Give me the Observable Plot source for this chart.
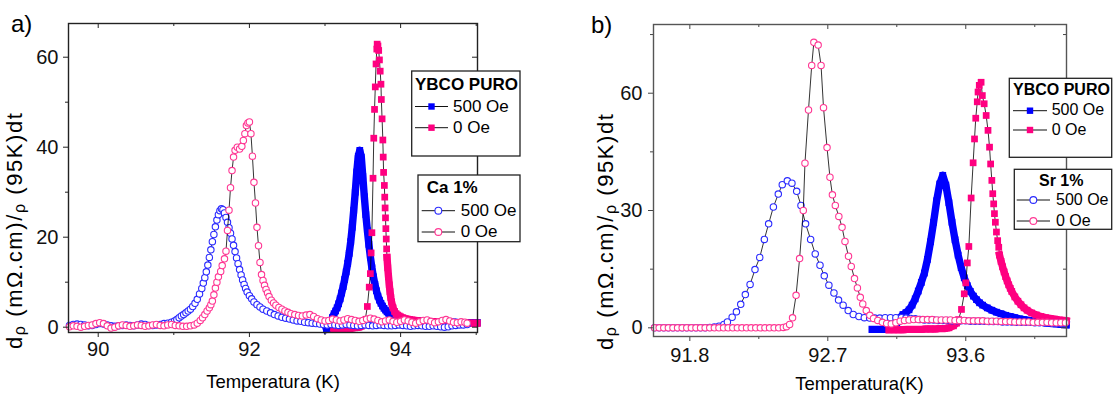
<!DOCTYPE html>
<html><head><meta charset="utf-8">
<script src="https://cdn.jsdelivr.net/npm/d3@7"></script>
<script src="https://cdn.jsdelivr.net/npm/@observablehq/plot@0.6"></script>
<style>
body{margin:0;background:#fff;}
#wrap{position:relative;width:1117px;height:396px;overflow:hidden;background:#fff;font-family:"Liberation Sans",Arial,sans-serif;}
.pl{position:absolute;top:0;}
#ov{position:absolute;left:0;top:0;pointer-events:none;}
</style></head>
<body>
<div id="wrap">
  <div id="pa" class="pl" style="left:0px"></div>
  <div id="pb" class="pl" style="left:558px"></div>
  <svg id="ov" width="1117" height="396"></svg>
</div>
<script>
// ---------- Panel a data (T in K, dρ/ρdt) ----------
const aYbco500 = [[93.02,-0.5],[93.04,-0.4],[93.06,0.0],[93.08,1.0],[93.10,2.2],[93.12,3.0],[93.14,3.6],[93.16,4.3],[93.18,5.2],[93.20,6.3],[93.22,7.6],[93.24,9.0],[93.26,10.6],[93.28,12.3],[93.30,14.2],[93.32,16.4],[93.34,19.0],[93.36,22.2],[93.38,26.0],[93.40,30.0],[93.42,34.5],[93.44,38.0],[93.46,39.3],[93.48,37.8],[93.50,33.5],[93.52,29.0],[93.54,25.0],[93.56,21.5],[93.58,18.4],[93.60,15.6],[93.62,13.2],[93.64,11.2],[93.66,9.5],[93.68,8.1],[93.70,6.9],[93.72,6.0],[93.74,5.3],[93.76,4.7],[93.78,4.2],[93.80,3.8],[93.82,3.4],[93.84,3.1],[93.86,2.8],[93.88,2.6],[93.90,2.4],[93.92,2.2],[93.94,2.1],[93.96,2.0],[93.98,1.9],[94.00,1.8],[94.03,1.7],[94.06,1.6],[94.09,1.6],[94.12,1.5],[94.15,1.5],[94.18,1.4],[94.21,1.4],[94.24,1.4],[94.27,1.3],[94.30,1.3],[94.33,1.3],[94.36,1.3],[94.39,1.2],[94.42,1.2],[94.45,1.2],[94.48,1.2],[94.51,1.2],[94.54,1.1],[94.57,1.1],[94.60,1.1],[94.63,1.1],[94.66,1.1],[94.69,1.1],[94.72,1.1],[94.75,1.0],[94.78,1.0],[94.81,1.0],[94.84,1.0],[94.87,1.0],[94.90,1.0],[94.93,1.0],[94.96,1.0],[94.99,1.0],[95.01,1.0]];
const aYbco0Base = [[93.12,-0.3],[93.15,-0.4],[93.18,-0.4],[93.21,-0.3],[93.24,-0.3],[93.27,-0.2],[93.30,-0.2],[93.33,-0.3],[93.36,-0.2],[93.39,-0.1],[93.42,-0.1],[93.45,0.0],[93.48,0.2],[93.51,0.6],[93.53,1.5]];
const aYbco0Peak = [[93.56,4.6],[93.585,8.9],[93.60,11.9],[93.61,16.5],[93.62,21.0],[93.635,33.1],[93.645,42.0],[93.655,48.4],[93.665,53.4],[93.675,58.5],[93.685,61.8],[93.69,62.9],[93.70,62.5],[93.71,61.5],[93.72,59.4],[93.73,56.9],[93.74,54.0],[93.745,50.6],[93.755,46.3],[93.765,41.6],[93.77,37.8],[93.775,34.4],[93.785,31.5],[93.79,28.9],[93.795,26.5],[93.80,24.3],[93.805,21.9],[93.81,19.6],[93.815,17.4]];
const aYbco0Tail = [[93.82,15.5],[93.83,13.2],[93.84,11.2],[93.85,9.4],[93.86,7.9],[93.87,6.6],[93.88,5.6],[93.90,4.3],[93.92,3.5],[93.94,3.0],[93.96,2.7],[93.98,2.5],[94.00,2.3],[94.03,2.1],[94.06,1.9],[94.09,1.8],[94.12,1.7],[94.15,1.6],[94.20,1.5],[94.25,1.4],[94.30,1.3],[94.35,1.3],[94.40,1.2],[94.45,1.2],[94.50,1.1],[94.55,1.1],[94.60,1.0],[94.65,1.0],[94.70,1.0],[94.75,0.9],[94.80,0.9],[94.85,0.9],[94.90,0.9],[94.95,0.9],[95.01,0.9]];
const aCa500 = [[89.62,0.4],[89.67,0.6],[89.72,0.7],[89.77,0.6],[89.82,0.5],[89.87,0.3],[89.92,0.4],[89.97,0.6],[90.02,0.8],[90.07,0.7],[90.12,0.5],[90.17,0.3],[90.22,0.2],[90.27,0.3],[90.32,0.4],[90.37,0.5],[90.42,0.4],[90.47,0.3],[90.52,0.5],[90.57,0.7],[90.62,0.6],[90.67,0.4],[90.72,0.4],[90.77,0.5],[90.82,0.6],[90.87,0.8],[90.92,0.9],[90.97,1.1],[91.01,1.4],[91.04,1.7],[91.07,2.1],[91.10,2.5],[91.13,2.8],[91.16,3.2],[91.19,3.6],[91.22,4.0],[91.25,4.6],[91.28,5.3],[91.31,6.2],[91.34,7.4],[91.37,8.6],[91.39,9.8],[91.41,11.0],[91.43,12.3],[91.45,13.8],[91.47,15.5],[91.49,17.2],[91.51,19.0],[91.53,20.6],[91.55,22.3],[91.57,23.8],[91.59,25.0],[91.61,25.9],[91.63,26.3],[91.65,26.1],[91.67,25.4],[91.69,24.4],[91.71,23.3],[91.73,22.1],[91.75,20.9],[91.77,19.6],[91.79,18.2],[91.81,16.8],[91.83,15.4],[91.85,14.1],[91.87,12.8],[91.89,11.6],[91.91,10.5],[91.93,9.5],[91.95,8.6],[91.97,7.8],[92.00,7.0],[92.03,6.3],[92.06,5.6],[92.10,5.0],[92.14,4.5],[92.18,4.0],[92.23,3.6],[92.28,3.2],[92.33,2.8],[92.38,2.5],[92.43,2.2],[92.48,2.0],[92.53,1.8],[92.58,1.6],[92.63,1.4],[92.68,1.3],[92.73,1.1],[92.78,1.0],[92.83,0.9],[92.88,0.8],[92.93,0.7],[92.98,0.6],[93.03,0.5],[93.08,0.6],[93.13,0.5],[93.18,0.4],[93.23,0.5],[93.28,0.6],[93.33,0.5],[93.38,0.4],[93.43,0.3],[93.48,0.4],[93.53,0.5],[93.58,0.4],[93.63,0.3],[93.68,0.4],[93.73,0.5],[93.78,0.4],[93.83,0.3],[93.88,0.3],[93.93,0.4],[93.98,0.5],[94.03,0.4],[94.08,0.3],[94.13,0.2],[94.18,0.3],[94.23,0.4],[94.28,0.3],[94.33,0.2],[94.38,0.2],[94.43,0.3],[94.48,0.2],[94.53,0.1],[94.58,0.0],[94.63,0.1],[94.68,0.3],[94.73,0.4],[94.78,0.5],[94.83,0.5],[94.88,0.6]];
const aCa0 = [[89.62,0.1],[89.67,0.3],[89.72,0.2],[89.77,0.0],[89.82,0.2],[89.87,0.4],[89.92,0.5],[89.97,0.8],[90.02,1.0],[90.07,0.8],[90.12,0.3],[90.17,-0.2],[90.22,0.0],[90.27,0.3],[90.32,0.5],[90.37,0.4],[90.42,0.2],[90.47,0.3],[90.52,0.5],[90.57,0.4],[90.62,0.2],[90.67,0.3],[90.72,0.5],[90.77,0.6],[90.82,0.4],[90.87,0.3],[90.92,0.5],[90.97,0.6],[91.02,0.4],[91.07,0.3],[91.12,0.2],[91.17,0.2],[91.22,0.3],[91.27,0.5],[91.31,0.9],[91.35,1.5],[91.38,2.1],[91.41,2.8],[91.44,3.6],[91.47,4.3],[91.49,5.0],[91.51,5.8],[91.53,7.2],[91.55,8.7],[91.57,10.0],[91.59,11.2],[91.62,12.4],[91.64,13.7],[91.67,15.2],[91.69,16.9],[91.71,21.5],[91.73,26.0],[91.75,31.0],[91.77,34.8],[91.79,37.8],[91.81,39.3],[91.84,40.0],[91.87,39.6],[91.90,40.2],[91.92,41.5],[91.94,43.0],[91.96,44.8],[91.98,45.4],[92.00,45.6],[92.02,43.0],[92.04,38.0],[92.06,32.2],[92.08,27.6],[92.10,22.2],[92.12,18.1],[92.14,14.4],[92.16,11.7],[92.18,10.4],[92.20,9.3],[92.22,8.4],[92.24,7.6],[92.26,6.8],[92.29,6.0],[92.32,5.4],[92.35,4.9],[92.39,4.4],[92.43,4.0],[92.47,3.6],[92.51,3.3],[92.55,3.0],[92.60,2.8],[92.65,2.6],[92.70,2.5],[92.75,2.7],[92.80,2.8],[92.85,2.4],[92.90,1.9],[92.95,1.6],[93.00,1.4],[93.05,1.5],[93.10,1.8],[93.15,1.6],[93.20,1.4],[93.25,1.6],[93.30,1.9],[93.35,1.7],[93.40,1.5],[93.45,1.3],[93.50,1.5],[93.55,1.8],[93.60,2.0],[93.65,1.8],[93.70,1.5],[93.75,1.2],[93.80,1.4],[93.85,1.6],[93.90,1.3],[93.95,1.1],[94.00,1.3],[94.05,1.6],[94.10,1.4],[94.15,1.1],[94.20,0.9],[94.25,1.2],[94.30,1.5],[94.35,1.6],[94.40,1.3],[94.45,1.0],[94.50,1.2],[94.55,1.5],[94.60,1.7],[94.65,1.4],[94.70,1.1],[94.75,1.0],[94.80,1.2],[94.85,1.1],[94.88,0.9]];

// ---------- Panel b data ----------
const bYbco500 = [[92.99,-0.4],[93.02,-0.4],[93.05,-0.4],[93.08,-0.4],[93.11,-0.3],[93.13,0.3],[93.15,1.2],[93.17,2.5],[93.19,3.4],[93.21,3.9],[93.23,4.6],[93.25,5.8],[93.27,7.4],[93.29,9.4],[93.31,11.6],[93.33,14.0],[93.35,17.5],[93.37,22.0],[93.39,27.0],[93.41,32.5],[93.43,36.8],[93.45,39.0],[93.47,36.5],[93.49,32.0],[93.51,27.0],[93.53,22.5],[93.55,18.6],[93.57,15.4],[93.59,12.8],[93.61,10.8],[93.63,9.3],[93.65,8.1],[93.67,7.2],[93.69,6.4],[93.71,5.8],[93.74,5.1],[93.77,4.5],[93.80,4.0],[93.83,3.6],[93.86,3.2],[93.89,2.9],[93.92,2.6],[93.95,2.3],[93.98,2.1],[94.01,1.9],[94.04,1.7],[94.07,1.5],[94.10,1.4],[94.13,1.2],[94.16,1.1],[94.19,1.0],[94.22,0.9],[94.255,0.8]];
const bYbco0Base = [[93.10,-0.5],[93.13,-0.5],[93.16,-0.5],[93.19,-0.5],[93.22,-0.4],[93.25,-0.4],[93.28,-0.4],[93.31,-0.4],[93.34,-0.3],[93.37,-0.3],[93.40,-0.3],[93.43,-0.2],[93.46,-0.2],[93.49,0.0],[93.52,0.5],[93.54,1.2]];
const bYbco0Peak = [[93.553,2.1],[93.572,4.7],[93.59,8.7],[93.60,11.5],[93.61,16.6],[93.62,20.8],[93.635,33.2],[93.648,42.2],[93.657,48.3],[93.665,53.6],[93.675,57.8],[93.68,60.3],[93.688,62.0],[93.70,62.8],[93.708,59.4],[93.72,57.3],[93.733,54.3],[93.745,50.5],[93.755,46.2],[93.762,41.9],[93.77,37.7],[93.776,34.3],[93.782,31.7],[93.787,29.2],[93.793,27.0],[93.80,24.5],[93.808,22.3],[93.815,20.6]];
const bYbco0Tail = [[93.82,18.6],[93.83,17.0],[93.84,15.6],[93.85,14.3],[93.86,13.1],[93.87,12.0],[93.88,11.0],[93.89,10.1],[93.90,9.3],[93.92,7.9],[93.94,6.8],[93.96,5.9],[93.98,5.1],[94.00,4.5],[94.03,3.8],[94.06,3.3],[94.09,2.9],[94.12,2.6],[94.15,2.4],[94.18,2.2],[94.21,2.0],[94.24,1.9],[94.255,1.8]];
const bSr500 = [[91.57,0],[91.60,0],[91.63,0],[91.66,0],[91.69,0],[91.72,0],[91.75,0],[91.78,0],[91.81,0],[91.84,0],[91.87,0],[91.90,0],[91.93,0.1],[91.96,0.2],[91.99,0.4],[92.022,0.85],[92.045,1.5],[92.076,2.7],[92.104,4.1],[92.132,6.0],[92.162,8.5],[92.193,11.1],[92.225,14.9],[92.256,18.0],[92.286,22.6],[92.314,26.6],[92.345,30.9],[92.377,34.2],[92.403,36.6],[92.436,37.6],[92.466,37.0],[92.497,34.9],[92.525,31.3],[92.555,26.6],[92.588,22.6],[92.618,18.9],[92.649,16.0],[92.677,13.3],[92.707,10.9],[92.74,8.9],[92.77,7.1],[92.80,5.8],[92.833,4.4],[92.866,3.4],[92.903,2.9],[92.938,2.6],[92.973,2.5],[93.006,2.5],[93.039,2.5],[93.074,2.6],[93.109,2.6],[93.144,2.6],[93.18,2.6],[93.21,2.5],[93.24,2.4],[93.27,2.3],[93.30,2.1],[93.33,2.0],[93.36,2.0],[93.39,2.0],[93.42,1.9],[93.45,1.9],[93.48,1.9],[93.51,1.8],[93.54,1.8],[93.57,1.8],[93.60,1.8],[93.63,1.7],[93.66,1.7],[93.69,1.7],[93.72,1.7],[93.75,1.6],[93.78,1.6],[93.81,1.6],[93.84,1.5],[93.87,1.5],[93.90,1.5],[93.93,1.4],[93.96,1.4],[93.99,1.4],[94.02,1.4],[94.05,1.3],[94.08,1.3],[94.11,1.3],[94.14,1.3],[94.17,1.2],[94.20,1.2],[94.23,1.2]];
const bSr0 = [[91.57,0],[91.60,0],[91.63,0],[91.66,0],[91.69,0],[91.72,0],[91.75,0],[91.78,0],[91.81,0],[91.84,0],[91.87,0],[91.90,0],[91.93,0],[91.96,0],[91.99,0],[92.02,0],[92.05,0],[92.08,0],[92.11,0],[92.14,0],[92.17,0],[92.20,0],[92.23,0],[92.26,0],[92.29,0],[92.32,0],[92.35,0],[92.38,0],[92.41,0.1],[92.43,0.3],[92.451,0.85],[92.47,2.55],[92.493,8.3],[92.516,17.7],[92.54,30.0],[92.551,42.1],[92.574,55.7],[92.595,67.1],[92.609,73.0],[92.637,72.3],[92.656,67.1],[92.672,56.3],[92.695,46.1],[92.714,38.5],[92.73,34.0],[92.749,31.3],[92.772,28.5],[92.793,25.7],[92.812,22.1],[92.835,18.3],[92.853,15.7],[92.874,12.6],[92.893,10.2],[92.912,7.8],[92.928,6.1],[92.951,4.4],[92.974,3.2],[92.998,2.4],[93.026,1.9],[93.056,1.4],[93.084,1.1],[93.114,1.0],[93.144,1.3],[93.172,1.7],[93.20,1.9],[93.23,2.0],[93.26,2.1],[93.29,2.1],[93.32,2.1],[93.35,2.1],[93.38,2.1],[93.41,2.0],[93.44,2.0],[93.47,2.0],[93.50,2.0],[93.53,1.9],[93.56,1.9],[93.59,1.9],[93.62,1.8],[93.65,1.8],[93.68,1.8],[93.71,1.8],[93.74,1.7],[93.77,1.7],[93.80,1.7],[93.83,1.6],[93.86,1.6],[93.89,1.6],[93.92,1.5],[93.95,1.5],[93.98,1.5],[94.01,1.5],[94.04,1.4],[94.07,1.4],[94.10,1.4],[94.13,1.4],[94.16,1.3],[94.19,1.3],[94.22,1.3],[94.25,1.3]];

// ---------- Axes / labels ----------
const aXMajor = [90, 92, 94], aXMinor = [91, 93, 95];
const aYMajor = [0, 20, 40, 60], aYMinor = [10, 30, 50];
const bXMajor = [91.8, 92.7, 93.6], bXMinor = [92.25, 93.15, 94.05];
const bYMajor = [0, 30, 60], bYMinor = [15, 45, 75];
const xTitleA = "Temperatura (K)", xTitleB = "Temperatura(K)";
const legTitle1 = "YBCO PURO", legTitleA2 = "Ca 1%", legTitleB2 = "Sr 1%";
const legRows = ["500 Oe", "0 Oe"];

const BLUE = "#0000ff", PINK = "#ff0080", BLUE_C = "#2a2aff", PINK_C = "#ff3894";
const H = 396;

function panel(cfg) {
  const X = d => d[0], Y = d => d[1];
  const innerW = cfg.width - cfg.mL - cfg.mR, innerH = H - cfg.mT - cfg.mB;
  const marks = [];
  for (const s of cfg.squares) {
    const all = s.parts.flat();
    marks.push(Plot.line(all, {x: X, y: Y, stroke: "#000", strokeWidth: 0.8}));
    for (const b of s.bands) marks.push(Plot.line(b, {x: X, y: Y, stroke: s.color, strokeWidth: 7.4, strokeLinejoin: "round", strokeLinecap: "square"}));
    marks.push(Plot.dot(all, {x: X, y: Y, symbol: "square", r: 3.8, fill: s.color, stroke: null}));
  }
  for (const c of cfg.circles) {
    marks.push(Plot.line(c.data, {x: X, y: Y, stroke: "#000", strokeWidth: 0.8}));
    marks.push(Plot.dot(c.data, {x: X, y: Y, r: 3.2, fill: "#fff", stroke: c.color, strokeWidth: 1.1}));
  }
  const tc = cfg.tickColor;
  marks.push(
    Plot.axisX(cfg.xMajor, {anchor: "bottom", tickSize: 5, tickPadding: cfg.xPad, tickFormat: cfg.xFmt, label: null, stroke: tc}),
    Plot.axisX(cfg.xMinor, {anchor: "bottom", tickSize: 3, tickFormat: () => "", label: null, stroke: tc}),
    Plot.axisY(cfg.yMajor, {anchor: "left", tickSize: 5, tickPadding: cfg.yPad, label: null, stroke: tc}),
    Plot.axisY(cfg.yMinor, {anchor: "left", tickSize: 3, tickFormat: () => "", label: null, stroke: tc}),
    Plot.tickX(cfg.xMajor, {x: d => d, insetBottom: innerH - 5, stroke: tc}),
    Plot.tickX(cfg.xMinor, {x: d => d, insetBottom: innerH - 3, stroke: tc}),
    Plot.tickY(cfg.yMajor, {y: d => d, insetLeft: innerW - 5, stroke: tc}),
    Plot.tickY(cfg.yMinor, {y: d => d, insetLeft: innerW - 3, stroke: tc}),
    Plot.frame({stroke: cfg.frameColor, strokeWidth: 1.4})
  );
  return Plot.plot({
    width: cfg.width, height: H,
    marginLeft: cfg.mL, marginRight: cfg.mR, marginTop: cfg.mT, marginBottom: cfg.mB,
    x: {domain: cfg.xDomain, axis: null},
    y: {domain: cfg.yDomain, axis: null},
    style: {fontFamily: '"Liberation Sans", Arial, sans-serif', fontSize: "20px", color: "#111", background: "transparent", overflow: "visible"},
    marks
  });
}

document.getElementById("pa").appendChild(panel({
  width: 558, mL: 68, mR: 81, mT: 23, mB: 64,
  xDomain: [89.607, 95.017], yDomain: [-1.18, 67.49],
  xMajor: aXMajor, xMinor: aXMinor, yMajor: aYMajor, yMinor: aYMinor,
  xFmt: d => String(d), xPad: 4, yPad: 5, tickColor: "#222", frameColor: "#222",
  squares: [
    {color: BLUE, parts: [aYbco500], bands: [aYbco500]},
    {color: PINK, parts: [aYbco0Base, aYbco0Peak, aYbco0Tail], bands: [aYbco0Base, aYbco0Tail]}
  ],
  circles: [{color: BLUE_C, data: aCa500}, {color: PINK_C, data: aCa0}]
}));

document.getElementById("pb").appendChild(panel({
  width: 559, mL: 95, mR: 51, mT: 24, mB: 60,
  xDomain: [91.563, 94.257], yDomain: [-2.22, 77.57],
  xMajor: bXMajor, xMinor: bXMinor, yMajor: bYMajor, yMinor: bYMinor,
  xFmt: d3.format(".1f"), xPad: 6, yPad: 6, tickColor: "#444", frameColor: "#555",
  squares: [
    {color: BLUE, parts: [bYbco500], bands: [bYbco500]},
    {color: PINK, parts: [bYbco0Base, bYbco0Peak, bYbco0Tail], bands: [bYbco0Base, bYbco0Tail]}
  ],
  circles: [{color: BLUE_C, data: bSr500}, {color: PINK_C, data: bSr0}]
}));

// ---------- Overlay: panel letters, axis titles, legends ----------
const ov = d3.select("#ov").style("font-family", '"Liberation Sans", Arial, sans-serif');
ov.append("text").attr("x", 11).attr("y", 32).attr("font-size", 24).text("a)");
ov.append("text").attr("x", 591).attr("y", 33).attr("font-size", 24).text("b)");
ov.append("text").attr("x", 273).attr("y", 388).attr("font-size", 18.5).attr("text-anchor", "middle").text(xTitleA);
ov.append("text").attr("x", 859.5).attr("y", 390).attr("font-size", 18.5).attr("text-anchor", "middle").text(xTitleB);

function yTitle(x, y) {
  const t = ov.append("text").attr("transform", `translate(${x},${y}) rotate(-90)`).attr("font-size", 22)
    .attr("text-anchor", "middle").attr("textLength", 236).attr("lengthAdjust", "spacing");
  t.append("tspan").text("d");
  t.append("tspan").attr("font-size", 16).attr("dy", 3).text("ρ");
  t.append("tspan").attr("dy", -3).text(" (mΩ.cm)/");
  t.append("tspan").attr("font-size", 16).attr("dy", 3).text("ρ");
  t.append("tspan").attr("dy", -3).text(" (95K)dt");
}
yTitle(22, 231);
yTitle(612.5, 232);

function legend(o) {
  ov.append("rect").attr("x", o.x).attr("y", o.y).attr("width", o.w).attr("height", o.h)
    .attr("fill", "#fff").attr("stroke", "#222").attr("stroke-width", 1.3);
  ov.append("text").attr("x", o.tx).attr("y", o.ty).attr("font-size", o.fs).attr("font-weight", "bold").text(o.title);
  o.rows.forEach((r, i) => {
    ov.append("line").attr("x1", o.lx1).attr("x2", o.lx2).attr("y1", r.sy).attr("y2", r.sy).attr("stroke", "#111").attr("stroke-width", 1);
    const mx = (o.lx1 + o.lx2) / 2;
    if (o.square) ov.append("rect").attr("x", mx - 3.2).attr("y", r.sy - 3.2).attr("width", 6.4).attr("height", 6.4).attr("fill", r.color);
    else ov.append("circle").attr("cx", mx).attr("cy", r.sy).attr("r", 3.4).attr("fill", "#fff").attr("stroke", r.color).attr("stroke-width", 1.1);
    ov.append("text").attr("x", o.textX).attr("y", r.by).attr("font-size", o.fs).text(legRows[i]);
  });
}
legend({x: 411.7, y: 71, w: 108.3, h: 85, tx: 415, ty: 90, fs: 17, title: legTitle1, square: true,
  lx1: 415, lx2: 448, textX: 453, rows: [{sy: 106.5, by: 111.7, color: BLUE}, {sy: 127.7, by: 132.7, color: PINK}]});
legend({x: 418, y: 175, w: 102, h: 66.7, tx: 426.7, ty: 193.3, fs: 17, title: legTitleA2, square: false,
  lx1: 421.7, lx2: 455, textX: 460.7, rows: [{sy: 210.7, by: 215.7, color: BLUE_C}, {sy: 232, by: 236.7, color: PINK_C}]});
legend({x: 1009.3, y: 78.3, w: 102.4, h: 79, tx: 1013, ty: 95, fs: 16, title: legTitle1, square: true,
  lx1: 1013, lx2: 1047, textX: 1051.7, rows: [{sy: 110.7, by: 115.3, color: BLUE}, {sy: 130, by: 135, color: PINK}]});
legend({x: 1014.3, y: 169.3, w: 97.4, h: 60, tx: 1039, ty: 186, fs: 16, title: legTitleB2, square: false,
  lx1: 1016.7, lx2: 1050, textX: 1056, rows: [{sy: 200, by: 205.3, color: BLUE_C}, {sy: 221, by: 226, color: PINK_C}]});
</script>
</body></html>
